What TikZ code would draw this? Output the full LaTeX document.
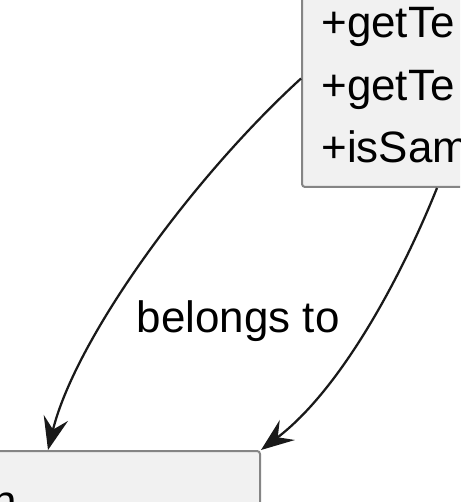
\documentclass[tikz,border=0pt]{standalone}
\usepackage{fontspec}
\setmainfont{Liberation Sans}
\usetikzlibrary{arrows.meta, fit}
\definecolor{boxfill}{HTML}{F1F1F1}
\definecolor{boxline}{HTML}{858585}

\begin{document}
\begin{tikzpicture}[x=0.02cm, y=-0.02cm,
    classbox/.style={draw=boxline, fill=boxfill, line width=0.04cm, rounded corners=0.06cm, inner sep=0pt},
    assoc/.style={draw=black!90, line width=0.045cm, -{Stealth[length=0.66cm, width=0.5cm, inset=0.24cm]}},
    txt/.style={font=\fontsize{25}{30}\selectfont, inner sep=0pt}]
  \useasboundingbox (0,0) rectangle (460,502);
  \clip (0,0) rectangle (460,502);
  \node[classbox, fit={(302,-30) (500,187)}] (teambox) {};
  \node[classbox, fit={(-30,451) (260,540)}] (groupbox) {};
  \foreach \t [count=\i] in {+getTe, +getTe, +isSam}
    \node[txt, anchor=base west] (row\i) at (321, {38+62.5*(\i-1)}) {\t};
  \node[txt, anchor=base east] (grp) at (17,516) {n};
  \draw[assoc] (teambox.west) .. controls (190,180) and (75,340) .. ([xshift=-1.34cm]groupbox.north)
    node[txt, pos=0.65, anchor=west, xshift=0.62cm] (lbl) {belongs to};
  \draw[assoc] ([xshift=0.72cm]teambox.south) .. controls (400,280) and (340,390) .. (groupbox.north east);
\end{tikzpicture}
\end{document}
